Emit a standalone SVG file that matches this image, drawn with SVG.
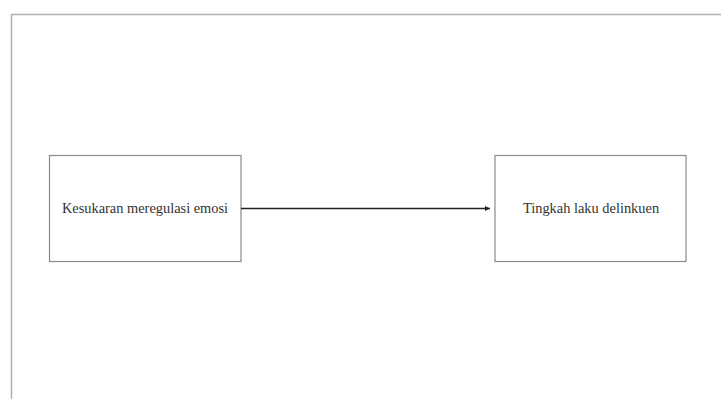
<svg xmlns="http://www.w3.org/2000/svg" width="721" height="399" viewBox="0 0 721 399">
<defs>
<style>
.box{fill:#fff;stroke:#8a8a8a;stroke-width:1.2}
.lbl{font-family:"Liberation Serif","Times New Roman",serif;font-size:14.4px;fill:#333;text-anchor:middle}
.conn{stroke:#222;stroke-width:1.3;fill:none}
</style>
<marker id="ah" viewBox="0 0 10 10" refX="10" refY="5" markerWidth="5" markerHeight="5" orient="auto" markerUnits="userSpaceOnUse">
<path d="M0,0 L10,5 L0,10 z" fill="#222"/>
</marker>
</defs>
<rect width="721" height="399" fill="#fff"/>
<path d="M11.5,399 V14.5 H721" fill="none" stroke="#b0b0b0" stroke-width="1.5"/>
<g id="node-kesukaran">
<rect class="box" x="49.5" y="155.5" width="191.5" height="106"/>
<text class="lbl" x="145" y="213">Kesukaran meregulasi emosi</text>
</g>
<g id="node-tingkah">
<rect class="box" x="495" y="155.5" width="191" height="106"/>
<text class="lbl" x="591" y="213">Tingkah laku delinkuen</text>
</g>
<g id="connectors">
<line class="conn" x1="241" y1="208.5" x2="490" y2="208.5" marker-end="url(#ah)"/>
</g>
</svg>
